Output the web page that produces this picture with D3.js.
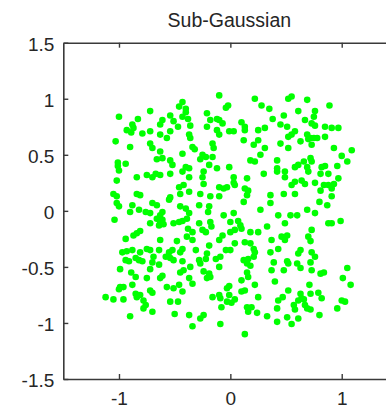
<!DOCTYPE html>
<html><head><meta charset="utf-8">
<script src="https://cdn.jsdelivr.net/npm/d3@7"></script>
<style>
html,body{margin:0;padding:0;background:#fff;overflow:hidden}
svg{display:block}
text{font-family:"Liberation Sans",Arial,Helvetica,sans-serif;fill:#262626}
</style></head>
<body>
<svg id="chart" width="386" height="408"></svg>
<script>
const chartTitle = "Sub-Gaussian";
const xTicks = [-1, 0, 1];
const yTicks = [-1.5, -1, -0.5, 0, 0.5, 1, 1.5];
const yTickLabels = ["-1.5", "-1", "-0.5", "0", "0.5", "1", "1.5"];
const xTickLabels = ["-1", "0", "1"];

// sample points [x, y]
const samples = [
[-0.72,0.89],[-1.00,0.84],[-0.43,0.97],[-0.46,0.93],[-0.40,0.91],[-0.40,0.88],[-0.43,0.84],[-0.54,0.85],[-0.38,0.82],[-0.83,0.82],[-0.88,0.77],[-0.87,0.74],[-0.93,0.72],[-0.89,0.70],[-0.61,0.81],[-0.63,0.77],[-0.51,0.80],[-0.47,0.75],[-0.79,0.69],[-0.72,0.71],[-0.63,0.68],[-0.54,0.71],[-0.57,0.65],[-1.03,0.62],[-0.90,0.57],[-0.72,0.60],[-0.70,0.56],[-0.63,0.53],[-0.43,0.51],[-0.66,0.46],[-0.61,0.47],[-0.54,0.45],[-0.52,0.41],[-1.01,0.43],[-1.01,0.40],[-0.94,0.42],[-0.40,0.39],
[-0.10,1.03],[0.22,1.00],[-0.04,0.92],[-0.02,0.94],[0.35,0.91],[0.28,0.94],[-0.21,0.87],[-0.18,0.81],[-0.12,0.82],[-0.10,0.81],[-0.07,0.78],[0.10,0.79],[0.13,0.75],[0.13,0.72],[0.38,0.82],[-0.36,0.76],[-0.21,0.75],[-0.12,0.72],[-0.10,0.68],[-0.01,0.71],[0.03,0.71],[0.25,0.72],[0.31,0.74],[-0.37,0.68],[-0.36,0.65],[0.12,0.63],[0.21,0.59],[0.25,0.63],[-0.16,0.60],[-0.15,0.56],[-0.34,0.57],[-0.32,0.55],[0.31,0.56],[-0.25,0.50],[-0.22,0.48],[-0.27,0.46],[-0.16,0.48],[0.18,0.45],[0.22,0.44],[0.27,0.50],[-0.19,0.41],[-0.12,0.38],[-0.01,0.39],[-0.37,0.38],
[0.52,1.00],[0.55,1.02],[0.69,0.99],[0.89,0.94],[0.61,0.89],[0.76,0.89],[0.48,0.85],[0.67,0.81],[0.75,0.84],[0.45,0.77],[0.51,0.75],[0.73,0.78],[0.76,0.76],[0.85,0.75],[0.91,0.74],[0.97,0.74],[0.58,0.71],[0.55,0.68],[0.52,0.66],[0.69,0.68],[0.72,0.65],[0.75,0.65],[0.70,0.64],[0.78,0.65],[0.85,0.66],[0.63,0.62],[0.45,0.60],[0.52,0.56],[0.73,0.59],[0.93,0.56],[1.09,0.54],[1.00,0.49],[0.42,0.45],[0.66,0.44],[0.72,0.47],[0.73,0.44],[1.05,0.44],[0.58,0.39],[0.61,0.41],[0.69,0.39],[0.42,0.38],[0.49,0.35],[0.82,0.39],[0.85,0.40],[0.96,0.40],
[-1.00,0.36],[-0.84,0.30],[-0.75,0.32],[-0.70,0.30],[-0.67,0.33],[-0.63,0.32],[-0.54,0.33],[-0.43,0.35],[-0.37,0.30],[-1.02,0.27],[-0.46,0.21],[-0.42,0.23],[-1.05,0.15],[-1.02,0.13],[-0.84,0.15],[-0.81,0.14],[-0.54,0.12],[-0.55,0.10],[-0.45,0.15],[-1.02,0.07],[-1.00,0.04],[-0.88,0.05],[-0.70,0.07],[-0.66,0.05],[-0.45,0.04],[-0.40,0.02],[-0.90,-0.01],[-0.82,0.01],[-0.76,-0.01],[-0.72,-0.02],[-0.61,-0.01],[-0.63,-0.04],[-0.37,-0.02],[-1.04,-0.08],[-0.72,-0.11],[-0.66,-0.07],[-0.63,-0.10],[-0.61,-0.08],[-0.64,-0.13],[-0.60,-0.12],[-0.51,-0.11],[-0.46,-0.10],[-0.43,-0.09],[-0.39,-0.07],[-0.38,-0.16],[-0.84,-0.20],[-0.81,-0.18],[-0.87,-0.22],[-0.94,-0.25],[-0.63,-0.26],[-0.48,-0.27],[-0.39,-0.23],[-0.75,-0.34],[-0.72,-0.35],[-0.43,-0.34],[-0.45,-0.37],[-0.97,-0.37],[-0.93,-0.36],[-0.88,-0.35],[-0.81,-0.37],[-0.64,-0.35],[-0.55,-0.37],[-0.52,-0.35],[-0.85,-0.42],[-0.69,-0.41],
[-0.24,0.35],[-0.25,0.30],[0.03,0.30],[0.15,0.29],[0.30,0.33],[0.42,0.35],[-0.24,0.24],[-0.10,0.21],[-0.06,0.20],[-0.03,0.21],[0.04,0.23],[0.03,0.25],[0.13,0.20],[0.16,0.18],[-0.37,0.17],[-0.27,0.15],[-0.18,0.13],[-0.10,0.13],[0.15,0.14],[0.12,0.08],[0.36,0.14],[0.36,0.07],[-0.28,0.05],[-0.19,0.04],[-0.20,-0.01],[0.27,0.01],[-0.06,-0.04],[0.03,-0.02],[-0.28,-0.11],[-0.18,-0.10],[-0.17,-0.14],[0.07,-0.09],[0.09,-0.13],[0.10,-0.16],[0.04,-0.17],[0.00,-0.10],[0.18,-0.19],[0.25,-0.19],[0.33,-0.14],[-0.34,-0.19],[-0.25,-0.17],[-0.22,-0.19],[-0.07,-0.22],[0.00,-0.19],[-0.34,-0.26],[-0.10,-0.26],[0.13,-0.28],[0.18,-0.29],[0.04,-0.29],[-0.19,-0.31],[0.37,-0.26],[-0.31,-0.35],[-0.21,-0.38],[-0.04,-0.35],[0.00,-0.35],[0.21,-0.34],[0.22,-0.37],[0.36,-0.37],
[0.49,0.30],[0.70,0.35],[0.81,0.33],[0.88,0.33],[0.58,0.26],[0.55,0.23],[0.64,0.27],[0.67,0.24],[0.76,0.25],[0.84,0.23],[0.88,0.23],[0.91,0.20],[0.93,0.24],[0.97,0.29],[0.81,0.18],[0.48,0.15],[0.58,0.15],[0.91,0.13],[0.80,0.08],[0.87,0.05],[0.43,-0.04],[0.54,-0.04],[0.60,-0.04],[0.69,0.01],[0.76,-0.02],[0.88,-0.11],[0.91,-0.11],[0.99,-0.09],[0.49,-0.11],[0.73,-0.17],[0.46,-0.23],[0.51,-0.22],[0.49,-0.26],[0.70,-0.23],[0.72,-0.27],[0.43,-0.34],[0.63,-0.35],[0.61,-0.38],[0.73,-0.37],
[-0.94,-0.44],[-0.91,-0.45],[-0.82,-0.44],[-0.79,-0.45],[-0.70,-0.46],[-0.64,-0.48],[-0.58,-0.41],[-0.54,-0.42],[-0.51,-0.44],[-0.43,-0.45],[-0.99,-0.52],[-0.89,-0.55],[-0.85,-0.59],[-0.72,-0.52],[-0.75,-0.60],[-0.63,-0.60],[-0.61,-0.58],[-0.45,-0.55],[-0.42,-0.53],[-0.37,-0.60],[-0.99,-0.68],[-1.00,-0.70],[-0.96,-0.68],[-0.88,-0.66],[-0.57,-0.68],[-0.51,-0.69],[-0.46,-0.66],[-0.72,-0.71],[-0.43,-0.72],[-1.12,-0.77],[-1.05,-0.79],[-0.96,-0.79],[-0.85,-0.74],[-0.84,-0.77],[-0.81,-0.75],[-0.78,-0.80],[-0.76,-0.84],[-0.78,-0.87],[-0.70,-0.73],[-0.54,-0.81],[-0.47,-0.81],[-0.70,-0.90],[-0.50,-0.92],[-0.90,-0.94],[-0.37,-0.93],
[-0.28,-0.44],[-0.27,-0.47],[-0.22,-0.43],[-0.13,-0.43],[-0.09,-0.41],[-0.36,-0.50],[-0.10,-0.50],[0.12,-0.44],[0.16,-0.43],[0.21,-0.41],[0.15,-0.47],[0.18,-0.49],[0.39,-0.46],[-0.24,-0.54],[-0.19,-0.56],[-0.21,-0.60],[-0.18,-0.59],[0.15,-0.55],[0.37,-0.53],[0.10,-0.62],[0.16,-0.59],[-0.34,-0.65],[0.22,-0.66],[-0.03,-0.69],[-0.01,-0.67],[-0.16,-0.77],[-0.10,-0.75],[-0.09,-0.78],[0.10,-0.72],[0.13,-0.71],[0.25,-0.77],[-0.01,-0.75],[-0.03,-0.81],[0.04,-0.79],[0.01,-0.82],[-0.08,-0.86],[0.15,-0.86],[0.19,-0.86],[0.16,-0.90],[-0.27,-0.96],[-0.24,-0.93],[0.24,-0.91],[0.33,-0.94],[-0.34,-1.03],[-0.09,-1.01],[0.13,-1.10],
[0.51,-0.45],[0.52,-0.47],[0.60,-0.47],[0.63,-0.51],[0.72,-0.46],[0.76,-0.41],[0.48,-0.53],[0.73,-0.53],[0.81,-0.56],[0.84,-0.55],[1.05,-0.51],[1.01,-0.60],[0.40,-0.63],[0.71,-0.66],[1.08,-0.66],[0.52,-0.71],[0.63,-0.74],[0.64,-0.78],[0.72,-0.74],[0.79,-0.73],[0.82,-0.78],[0.47,-0.77],[0.43,-0.80],[0.61,-0.80],[0.66,-0.79],[0.42,-0.87],[0.57,-0.84],[0.58,-0.88],[0.67,-0.84],[0.69,-0.87],[0.72,-0.88],[1.00,-0.80],[1.03,-0.81],[0.96,-0.87],[0.51,-0.95],[0.61,-0.96],[0.80,-0.93],[0.55,-1.01],[0.42,-0.99]
];

(function () {
const svg = d3.select("#chart");
const mLeft = 63.3, mTop = 42.7, mBottom = 379, plotRight = 397.4;
const x = d3.scaleLinear().domain([-1.5, 1.5]).range([mLeft, plotRight]);
const y = d3.scaleLinear().domain([-1.5, 1.5]).range([mBottom, mTop]);

const axisColor = "#3a3a3a";

// points
svg.append("g").selectAll("circle").data(samples).join("circle")
  .attr("cx", d => x(d[0])).attr("cy", d => y(d[1])).attr("r", 3.3)
  .attr("fill", "#00ff00");

// bottom axis
const gB = svg.append("g").attr("transform", `translate(0,${mBottom})`)
  .call(d3.axisBottom(x).tickValues(xTicks).tickSizeInner(-5).tickSizeOuter(0)
    .tickFormat((d,i) => xTickLabels[i]));
// top axis
svg.append("g").attr("transform", `translate(0,${mTop})`)
  .call(d3.axisTop(x).tickValues(xTicks).tickSizeInner(-5).tickSizeOuter(0).tickFormat(""));
// left axis
const gL = svg.append("g").attr("transform", `translate(${mLeft},0)`)
  .call(d3.axisLeft(y).tickValues(yTicks).tickSizeInner(-5).tickSizeOuter(0).tickPadding(9)
    .tickFormat((d,i) => yTickLabels[i]));
// right axis (outside view)
svg.append("g").attr("transform", `translate(${plotRight},0)`)
  .call(d3.axisRight(y).tickValues(yTicks).tickSizeInner(-5).tickSizeOuter(0).tickFormat(""));

svg.selectAll(".domain").attr("stroke", axisColor).attr("stroke-width", 1.6);
svg.selectAll(".tick line").attr("stroke", axisColor).attr("stroke-width", 1.4);
svg.selectAll(".tick text").attr("font-size", 19).attr("fill", "#262626")
  .attr("font-family", "'Liberation Sans', Arial, sans-serif");
gB.selectAll(".tick text").attr("dy", null).attr("y", 26);
gL.selectAll(".tick text").attr("dy", "0.42em");

svg.append("text").attr("x", x(0) - 1).attr("y", 27).attr("text-anchor", "middle")
  .attr("font-size", 19.5).text(chartTitle);
})();
</script>
</body></html>
